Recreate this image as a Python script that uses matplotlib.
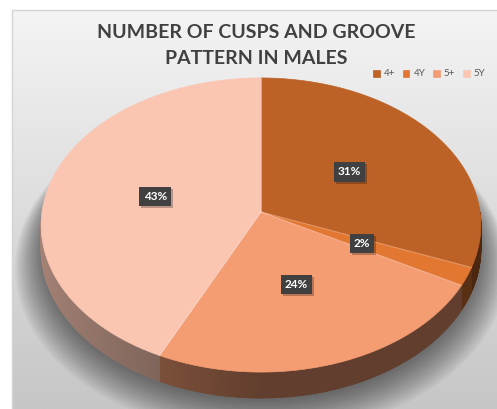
import numpy as np
import matplotlib
matplotlib.use("Agg")
import matplotlib.pyplot as plt
from matplotlib.patches import Polygon, Rectangle
from matplotlib.colors import to_rgb

# ---- data ----
labels = ["4+", "4Y", "5+", "5Y"]
values = [31, 2, 24, 43]
colors = ["#BD6226", "#E27731", "#F49C72", "#FAC6B2"]
title_lines = ["NUMBER OF CUSPS AND GROOVE", "PATTERN IN MALES"]

FONT = ["Lato", "DejaVu Sans"]

W, H = 497, 409
fig = plt.figure(figsize=(W / 100, H / 100), dpi=100)
ax = fig.add_axes([0, 0, 1, 1])
ax.set_xlim(0, W)
ax.set_ylim(H, 0)
ax.axis("off")

# ---- chart area background (vertical gradient) ----
L, T0 = 12, 10
grad = np.linspace(0, 1, 256)[:, None]
top_c = np.array(to_rgb("#f4f4f4"))
bot_c = np.array(to_rgb("#c6c6c6"))
img = top_c[None, None, :] * (1 - grad[..., None]) + bot_c[None, None, :] * grad[..., None]
img = np.repeat(img, 2, axis=1)
ax.imshow(img, extent=[L, W, H, T0], aspect="auto", zorder=0, interpolation="bilinear")
ax.plot([L, L, W], [H, T0, T0], color="#d4d4d4", lw=1.0, zorder=1)

# ---- 3-D pie projection ----
CX, CY = 261.0, 212.0     # projected centre of the top face
R = 219.0                 # horizontal radius
RC = 145.9                # vertical radius (tilt)
P = 0.0885                # perspective strength
TH = 23.7                 # wall thickness


def proj(x, y, z=0.0):
    w = 1 + P * y
    return CX + R * x / w, CY - RC * y / w + TH * z / w


fracs = np.array(values, dtype=float) / sum(values)
edges = 90 - 360 * np.concatenate([[0], np.cumsum(fracs)])

# soft shadow beneath the pie
phi = np.radians(np.linspace(0, 360, 361))
bx, by = proj(np.cos(phi), np.sin(phi), 1.0)
mx, my = bx.mean(), by.mean()
for k in range(18):
    s = 1.0 + 0.007 * k
    ax.add_patch(Polygon(np.column_stack([mx + (bx - mx) * s, my + (by - my) * s + 3 + 0.9 * k]),
                         closed=True, fc="black", ec="none", alpha=0.032, zorder=2))

# side wall, shaded by direction
for i, base in enumerate(colors):
    lo, hi = max(edges[i + 1], -180.0), min(edges[i], 0.0)
    if hi <= lo:
        continue
    base_rgb = np.array(to_rgb(base))
    angs = np.linspace(lo, hi, max(3, int((hi - lo) * 2)))
    for a0, a1 in zip(angs[:-1], angs[1:]):
        am = np.radians(0.5 * (a0 + a1))
        f = 0.40 + 0.26 * max(0.0, -np.cos(am))
        c = np.clip(base_rgb * f, 0, 1)
        t = np.radians([a0, a1])
        x0, y0 = proj(np.cos(t), np.sin(t), 0.0)
        x1, y1 = proj(np.cos(t), np.sin(t), 1.0)
        pts = np.array([[x0[0], y0[0]], [x0[1], y0[1]], [x1[1], y1[1]], [x1[0], y1[0]]])
        ax.add_patch(Polygon(pts, closed=True, fc=c, ec=c, lw=0.6, zorder=3))

# top faces
handles = []
for i, base in enumerate(colors):
    t = np.radians(np.linspace(edges[i + 1], edges[i], 240))
    xs = np.concatenate([[0], np.cos(t)])
    ys = np.concatenate([[0], np.sin(t)])
    px, py = proj(xs, ys, 0.0)
    poly = Polygon(np.column_stack([px, py]), closed=True, fc=base, ec=base, lw=0.5,
                   zorder=4, label=labels[i])
    ax.add_patch(poly)
    handles.append(poly)

# faint highlight along slice boundaries
for e in edges[:-1]:
    px, py = proj(np.array([0, np.cos(np.radians(e))]), np.array([0, np.sin(np.radians(e))]))
    ax.plot(px, py, color="white", alpha=0.25, lw=0.8, zorder=5)

# data labels
label_texts = []
for i, v in enumerate(values):
    mid = np.radians(0.5 * (edges[i] + edges[i + 1]))
    lx, ly = proj(0.5 * np.cos(mid), 0.5 * np.sin(mid))
    label_texts.append(ax.text(lx, ly, f"{v}%", ha="center", va="center", fontsize=8.5,
                               fontweight="bold", family=FONT, color="white", zorder=7,
                               bbox=dict(boxstyle="square,pad=0.35", fc="#404040", ec="none")))

# title
ax.text(256, 33, title_lines[0], ha="center", va="center", fontsize=14, fontweight="bold",
        family=FONT, color="#404040", zorder=8)
ax.text(256, 58, title_lines[1], ha="center", va="center", fontsize=14, fontweight="bold",
        family=FONT, color="#404040", zorder=8)

# legend
leg = ax.legend(handles=handles, loc="center", bbox_to_anchor=(429, 74),
                bbox_transform=ax.transData, ncol=4, frameon=False,
                prop={"family": FONT, "size": 7}, handlelength=0.7, handleheight=0.7,
                handletextpad=0.4, columnspacing=0.8, borderpad=0)
for t in leg.get_texts():
    t.set_color("#595959")

# drop shadows behind the label boxes
fig.canvas.draw()
inv = ax.transData.inverted()
for t in label_texts:
    bb = t.get_bbox_patch().get_window_extent()
    (x0, y0), (x1, y1) = inv.transform([[bb.x0, bb.y0], [bb.x1, bb.y1]])
    ax.add_patch(Rectangle((min(x0, x1) + 2, min(y0, y1) + 2), abs(x1 - x0), abs(y1 - y0),
                           fc="black", ec="none", alpha=0.25, zorder=6))

fig.savefig("out.png", dpi=100)
